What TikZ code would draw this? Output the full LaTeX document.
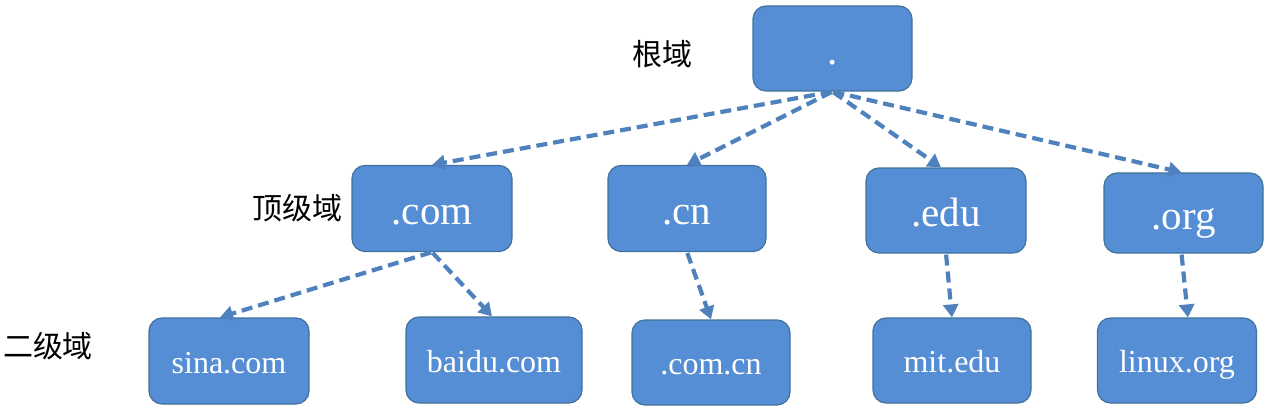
\documentclass[tikz,border=0pt]{standalone}
\usepackage{fontspec}
\setmainfont{Liberation Serif}
\newfontfamily\cjk{Noto Sans CJK SC}
\usetikzlibrary{arrows.meta}
\definecolor{boxfill}{HTML}{558ED5}
\definecolor{boxline}{HTML}{41719C}
\definecolor{arrowc}{HTML}{4F81BD}
\tikzset{
  dnsbox/.style={draw=boxline, line width=1.2pt, fill=boxfill, rounded corners=13pt,
     text=white, inner sep=0pt, anchor=center},
  topbox/.style={dnsbox, font=\fontsize{41}{41}\selectfont, text height=32pt, text depth=0pt},
  secbox/.style={dnsbox, font=\fontsize{32}{32}\selectfont, text height=24pt, text depth=0pt},
  levellabel/.style={font=\cjk\fontsize{30}{30}\selectfont, text=black, inner sep=0pt},
  dnsarrow/.style={draw=arrowc, line width=4.2pt, dash pattern=on 11pt off 6pt,
     -{Triangle[length=13pt,width=15pt]}, shorten <=1pt}
}
\begin{document}
\begin{tikzpicture}[x=1pt,y=-1pt]
\useasboundingbox (0,0) rectangle (1270,420);
% root
\node[topbox, minimum width=159pt, minimum height=85pt] (root) at (832.5,48.5) {.};
% top level
\node[topbox, minimum width=160pt, minimum height=86pt] (com) at (432,208.5) {.com};
\node[topbox, minimum width=158pt, minimum height=86pt] (cn) at (687,208.5) {.cn};
\node[topbox, minimum width=160pt, minimum height=85pt] (edu) at (946,210.5) {.edu};
\node[topbox, minimum width=159pt, minimum height=80pt] (org) at (1183.5,213) {.org};
% second level
\node[secbox, minimum width=160pt, minimum height=86pt] (sina) at (229,361) {sina.com};
\node[secbox, minimum width=176pt, minimum height=86pt] (baidu) at (494,360) {baidu.com};
\node[secbox, minimum width=158pt, minimum height=85pt] (comcn) at (711,362.5) {.com.cn};
\node[secbox, minimum width=158pt, minimum height=85pt] (mit) at (952,360.5) {mit.edu};
\node[secbox, minimum width=159pt, minimum height=85pt] (linux) at (1177,360.5) {linux.org};
% labels
\node[levellabel] (lroot) at (662,54) {根域};
\node[levellabel] (ltop) at (297,208) {顶级域};
\node[levellabel] (lsec) at (48,346) {二级域};
% arrows
\draw[dnsarrow] (root.south) -- (com.north);
\draw[dnsarrow] (root.south) -- (cn.north);
\draw[dnsarrow] (root.south) -- ([xshift=-5pt]edu.north);
\draw[dnsarrow] (root.south) -- ([xshift=-2pt]org.north);
\draw[dnsarrow] (com.south) -- ([xshift=-9pt]sina.north);
\draw[dnsarrow] (com.south) -- ([xshift=-2pt]baidu.north);
\draw[dnsarrow] (cn.south) -- (comcn.north);
\draw[dnsarrow] (edu.south) -- (mit.north);
\draw[dnsarrow] ([xshift=-2pt]org.south) -- ([xshift=11pt]linux.north);
\end{tikzpicture}
\end{document}
